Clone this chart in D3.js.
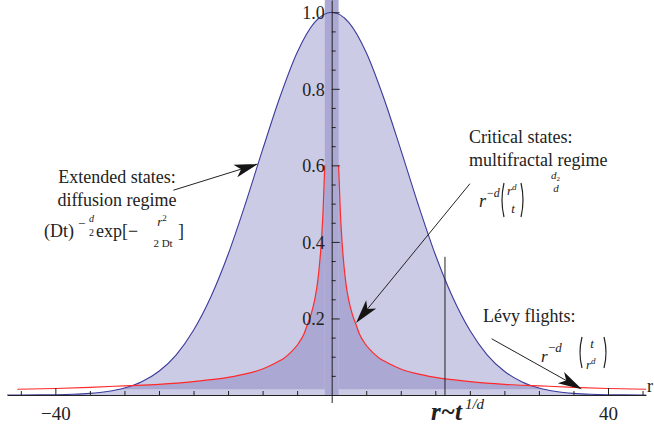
<!DOCTYPE html>
<html>
<head>
<meta charset="utf-8">
<script src="https://cdn.jsdelivr.net/npm/d3@7"></script>
<style>
  body { margin: 0; background: #fff; }
  svg text { font-family: "Liberation Serif", "Times New Roman", serif; fill: #222; }
  .axis path, .axis line { stroke: #222; }
</style>
</head>
<body>
<div id="chart"></div>
<script>
// gaussian profile (extended states), values at +/- r
var gaussR = [0, 2.5, 5, 7.5, 10, 12.5, 15, 17.5, 20, 22.5, 25, 27.5, 30, 32.5, 35, 37.5, 40, 42.5, 45, 47.5];
var gaussY = [1.0, 0.973, 0.895, 0.778, 0.641, 0.499, 0.367, 0.256, 0.169, 0.105, 0.062, 0.0345, 0.0182, 0.0091, 0.0043, 0.0019, 0.0008, 0.0003, 0.0001, 0.0];

// power law profile (critical states), values at +/- r
var powR = [1, 1.25, 1.5, 2, 2.5, 3, 3.5, 4, 5, 6, 7, 8, 10, 12, 15, 17.5, 20, 25, 30, 35, 40, 45.5];
var powY = [0.6, 0.48, 0.4, 0.3, 0.245, 0.21, 0.185, 0.16, 0.13, 0.11, 0.095, 0.085, 0.068, 0.057, 0.046, 0.04, 0.035, 0.028, 0.024, 0.02, 0.017, 0.015];
var powBase = 0.015;
var stripHalf = 1;

// r ~ t^(1/d) marker
var markerX = 16.4, markerTop = 0.361;

var xMajor = [-40, 40];
var xMinor = [-45, -35, -30, -25, -20, -15, -10, -5, 5, 10, 15, 20, 25, 30, 35, 45];
var yMajor = [0.2, 0.4, 0.6, 0.8, 1.0];
var yMinor = [0.05, 0.1, 0.15, 0.25, 0.3, 0.35, 0.45, 0.5, 0.55, 0.65, 0.7, 0.75, 0.85, 0.9, 0.95];

var width = 654, height = 428;

var svg = d3.select("#chart").append("svg")
  .attr("width", width).attr("height", height);

var x = d3.scaleLinear().domain([-47, 45.5]).range([7, 646]);
var y = d3.scaleLinear().domain([0, 1.032]).range([395, 0]);

function mirror(rs, ys) {
  var pts = [];
  for (var i = rs.length - 1; i >= 0; i--) if (rs[i] !== 0) pts.push([-rs[i], ys[i]]);
  for (var j = 0; j < rs.length; j++) pts.push([rs[j], ys[j]]);
  return pts;
}
var gauss = mirror(gaussR, gaussY);
var powRight = powR.map(function (r, i) { return [r, powY[i]]; });
var powLeft = powR.map(function (r, i) { return [-r, powY[i]]; }).reverse();

var light = "#cccbe6", dark = "#aba8d3";

// plot clip
svg.append("clipPath").attr("id", "plot")
  .append("rect").attr("x", x(-47)).attr("y", 0).attr("width", x(45.5) - x(-47)).attr("height", y(0));

var gArea = d3.area().x(function (d) { return x(d[0]); }).y0(y(0)).y1(function (d) { return y(d[1]); })
  .curve(d3.curveMonotoneX);
var gLine = d3.line().x(function (d) { return x(d[0]); }).y(function (d) { return y(d[1]); })
  .curve(d3.curveMonotoneX);

svg.append("clipPath").attr("id", "gclip")
  .append("path").attr("d", gArea(gauss));

var plot = svg.append("g").attr("clip-path", "url(#plot)");

plot.append("path").attr("d", gArea(gauss)).attr("fill", light);

var pArea = d3.area().x(function (d) { return x(d[0]); }).y0(y(powBase)).y1(function (d) { return y(d[1]); })
  .curve(d3.curveMonotoneX);
var darkG = plot.append("g").attr("clip-path", "url(#gclip)");
darkG.append("path").attr("d", pArea(powLeft)).attr("fill", dark);
darkG.append("path").attr("d", pArea(powRight)).attr("fill", dark);

// central strip where the power law leaves the plot range
plot.append("rect")
  .attr("x", x(-stripHalf)).attr("y", y(1.032))
  .attr("width", x(stripHalf) - x(-stripHalf)).attr("height", y(0) - y(1.032))
  .attr("fill", dark);

plot.append("path").attr("d", gLine(gauss)).attr("fill", "none")
  .attr("stroke", "#3b3b9c").attr("stroke-width", 1.1);
plot.append("path").attr("d", gLine(powLeft)).attr("fill", "none")
  .attr("stroke", "#ff2a2a").attr("stroke-width", 1.2);
plot.append("path").attr("d", gLine(powRight)).attr("fill", "none")
  .attr("stroke", "#ff2a2a").attr("stroke-width", 1.2);

// axes
var fmtX = function (d) { return d < 0 ? "\u2212" + Math.abs(d) : d; };
svg.append("g").attr("class", "axis").attr("transform", "translate(0," + y(0) + ")")
  .call(d3.axisBottom(x).tickValues(xMinor).tickSize(-4).tickSizeOuter(0).tickFormat(""));
var xa = svg.append("g").attr("class", "axis").attr("transform", "translate(0," + y(0) + ")")
  .call(d3.axisBottom(x).tickValues(xMajor).tickSize(-7).tickSizeOuter(0).tickPadding(12).tickFormat(fmtX));
xa.select(".domain").remove();
xa.selectAll("text").attr("font-size", 19).style("font-family", "Liberation Serif");
svg.append("g").attr("class", "axis").attr("transform", "translate(0," + y(0) + ")")
  .call(d3.axisBottom(x).tickValues([0]).tickSize(8).tickFormat(""))
  .select(".domain").remove();

svg.append("g").attr("class", "axis").attr("transform", "translate(" + x(0) + ",0)")
  .call(d3.axisLeft(y).tickValues(yMinor).tickSize(-4).tickSizeOuter(0).tickFormat(""));
var ya = svg.append("g").attr("class", "axis").attr("transform", "translate(" + x(0) + ",0)")
  .call(d3.axisLeft(y).tickValues(yMajor).tickSize(-8).tickSizeOuter(0).tickPadding(7).tickFormat(d3.format(".1f")));
ya.select(".domain").remove();
ya.selectAll("text").attr("font-size", 18).attr("dy", "0.36em").style("font-family", "Liberation Serif");

svg.append("text").attr("x", 647).attr("y", 392).attr("font-size", 18).text("r");

// r ~ t^(1/d) marker
svg.append("line").attr("x1", x(markerX)).attr("x2", x(markerX))
  .attr("y1", y(markerTop)).attr("y2", y(0)).attr("stroke", "#222").attr("stroke-width", 1);
var mt = svg.append("text").attr("x", 431).attr("y", 420).attr("font-size", 25)
  .attr("font-style", "italic").attr("font-weight", "bold");
mt.append("tspan").text("r~t");
mt.append("tspan").attr("font-size", 15).attr("font-weight", "normal").attr("dx", 3).attr("dy", -11).text("1/d");

// annotations
function txt(px, py, s, size, opts) {
  opts = opts || {};
  return svg.append("text").attr("x", px).attr("y", py).attr("font-size", size)
    .attr("text-anchor", opts.anchor || "start")
    .attr("font-style", opts.italic ? "italic" : "normal").text(s);
}
function paren(px, top, bot, left) {
  var w = 4, m = (top + bot) / 2;
  var cx = left ? px - w : px + w;
  svg.append("path").attr("d", "M" + px + "," + top + " Q" + cx + "," + m + " " + px + "," + bot)
    .attr("fill", "none").attr("stroke", "#222").attr("stroke-width", 1.2);
}
function arrow(x1, y1, x2, y2) {
  var p1 = [x(x1), y(y1)], p2 = [x(x2), y(y2)];
  var dx = p2[0] - p1[0], dy = p2[1] - p1[1], len = Math.sqrt(dx * dx + dy * dy);
  var ux = dx / len, uy = dy / len, nx = -uy, ny = ux;
  var L = 24, w = 6.5;
  svg.append("line").attr("x1", p1[0]).attr("y1", p1[1])
    .attr("x2", p2[0] - ux * L * 0.7).attr("y2", p2[1] - uy * L * 0.7)
    .attr("stroke", "#222").attr("stroke-width", 1);
  var pts = [
    p2,
    [p2[0] - ux * L + nx * w, p2[1] - uy * L + ny * w],
    [p2[0] - ux * L * 0.75, p2[1] - uy * L * 0.75],
    [p2[0] - ux * L - nx * w, p2[1] - uy * L - ny * w]
  ];
  svg.append("path").attr("d", "M" + pts.join("L") + "Z").attr("fill", "#151515");
}

// extended states
txt(117, 183, "Extended states:", 18, { anchor: "middle" });
txt(117, 206, "diffusion regime", 18, { anchor: "middle" });
txt(44, 237, "(Dt)", 18);
txt(78, 228, "\u2212", 13);
txt(91.5, 222, "d", 10, { anchor: "middle", italic: true });
txt(91.5, 236, "2", 10, { anchor: "middle" });
txt(96, 237, "exp[\u2212", 18);
var fr = txt(162, 226, "", 13, { anchor: "middle" });
fr.append("tspan").attr("font-style", "italic").text("r");
fr.append("tspan").attr("font-size", 9).attr("dy", -5).text("2");
txt(163, 247, "2 Dt", 11, { anchor: "middle" });
txt(178, 237, "]", 18);
arrow(-22.92, 0.535, -10.62, 0.604);

// critical states
txt(469, 143, "Critical states:", 18);
txt(469, 166, "multifractal regime", 18);
txt(479, 207, "r", 18, { italic: true });
var cm = txt(487, 197, "\u2212", 12);
cm.append("tspan").attr("font-style", "italic").text("d");
paren(504, 183, 217, true);
var cn = txt(507, 195, "r", 13, { italic: true });
cn.append("tspan").attr("font-size", 9).attr("dy", -5).text("d");
txt(513, 213, "t", 13, { anchor: "middle", italic: true });
paren(521, 183, 217, false);
var ce = txt(551, 179, "d", 11, { italic: true });
ce.append("tspan").attr("font-size", 7).attr("font-style", "normal").attr("dy", 2).text("2");
txt(556, 192, "d", 11, { italic: true, anchor: "middle" });
arrow(20.01, 0.552, 3.52, 0.188);

// levy flights
txt(483, 322, "Lévy flights:", 18);
txt(541, 362, "r", 17, { italic: true });
var lm = txt(548, 352, "\u2212", 13);
lm.append("tspan").attr("font-style", "italic").text("d");
paren(582, 337, 368, true);
txt(592, 348, "t", 13, { anchor: "middle", italic: true });
var ld = txt(586, 369, "r", 13, { italic: true });
ld.append("tspan").attr("font-size", 9).attr("dy", -5).text("d");
paren(604, 337, 368, false);
arrow(23.15, 0.147, 36.22, 0.0149);
</script>
</body>
</html>
